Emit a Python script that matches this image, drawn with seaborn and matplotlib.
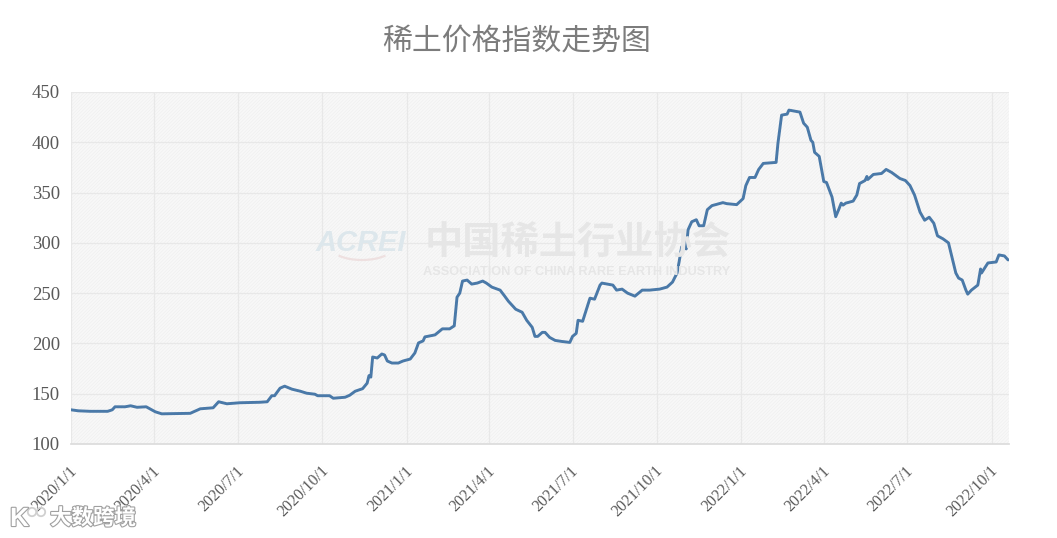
import matplotlib
matplotlib.use("Agg")
import matplotlib.pyplot as plt
import matplotlib.patheffects as pe
from matplotlib.patches import Rectangle, Arc, Circle
from matplotlib.transforms import IdentityTransform, ScaledTranslation
import pandas as pd
import seaborn as sns

title = "稀土价格指数走势图"
tick_labels = ["2020/1/1", "2020/4/1", "2020/7/1", "2020/10/1", "2021/1/1", "2021/4/1",
               "2021/7/1", "2021/10/1", "2022/1/1", "2022/4/1", "2022/7/1", "2022/10/1"]
y_ticks = [100, 150, 200, 250, 300, 350, 400, 450]

day_offsets = [0, 8, 21, 40, 45, 48, 59, 65, 72, 82, 86, 92, 99, 130, 141, 155, 161, 170, 184, 206,
               214, 219, 222, 228, 233, 241, 250, 257, 266, 269, 282, 286, 299, 304, 310, 318, 323, 325,
               327, 329, 334, 339, 342, 345, 350, 357, 362, 370, 375, 379, 384, 386, 397, 405, 413, 418,
               421, 424, 427, 432, 437, 443, 449, 453, 459, 468, 473, 477, 482, 485, 492, 497, 503, 506,
               509, 514, 517, 522, 528, 535, 544, 547, 551, 553, 558, 566, 571, 577, 579, 591, 595, 601,
               607, 615, 623, 631, 642, 650, 656, 661, 663, 666, 671, 673, 677, 682, 685, 690, 694, 699,
               711, 715, 726, 733, 736, 740, 746, 750, 755, 769, 771, 775, 781, 783, 795, 799, 803, 807,
               809, 811, 816, 821, 824, 830, 834, 837, 840, 842, 845, 853, 857, 860, 866, 868, 869, 875,
               884, 889, 895, 904, 910, 915, 920, 926, 931, 936, 941, 945, 951, 957, 965, 968, 972, 976,
               978, 982, 989, 992, 993, 1000, 1009, 1012, 1018, 1022]
index_values = [134, 133, 132.5, 132.5, 134, 137, 137, 138, 136.5, 137, 135, 132, 130, 130.5, 135, 136, 142, 140, 141, 141.5,
                142, 148, 148, 155.5, 157.5, 154.5, 152.5, 150.5, 149.5, 148, 148, 145.5, 146.5, 148.5, 152.5, 155, 160.5, 168,
                166.5, 186.5, 185.5, 189.5, 188.5, 182.5, 180.5, 180.5, 182.5, 184.5, 190.5, 200.5, 202.5, 206.5, 208.5, 214.5, 214.5, 217.5,
                246, 250, 262, 263, 259, 260, 262, 260, 256, 253, 247, 242, 237, 234, 231, 223, 216, 207,
                207, 211, 211, 206, 203, 202, 201, 207, 210, 223, 222, 245, 244, 258, 260, 258, 253, 254,
                250, 247, 253, 253, 254, 256, 261, 270, 280, 296, 294, 313, 321, 323, 317, 317, 333, 337,
                340, 339, 338, 344, 357, 365, 365, 373, 379, 380, 399, 427, 428, 432, 430, 419, 415, 402,
                400, 390, 386, 361, 360, 345.5, 326, 332.5, 339.5, 337.5, 339.5, 341.5, 347.5, 359, 362, 366, 363, 368,
                369, 373, 370, 364, 362, 357, 347.5, 330.5, 322.5, 325.5, 319.5, 307, 304, 300, 270, 265, 263, 253,
                249, 253, 258, 274, 270, 280, 281, 288, 287, 283]

sns.set_theme(style="white")
plt.rcParams["font.family"] = ["Liberation Serif", "Noto Sans CJK SC", "DejaVu Sans"]
plt.rcParams["hatch.linewidth"] = 0.4

W, H = 1057, 538
start = pd.Timestamp("2020-01-01")
df = pd.DataFrame({"date": start + pd.to_timedelta(day_offsets, unit="D"), "value": index_values})
tick_dates = [pd.Timestamp(s.replace("/", "-")) for s in tick_labels]

fig = plt.figure(figsize=(W / 100, H / 100), dpi=100, facecolor="white")
ax = fig.add_axes([71 / W, 1 - 444 / H, (1009 - 71) / W, (444 - 92) / H])
ax.set_facecolor("#f8f8f8")
ax.add_patch(Rectangle((0, 0), 1, 1, transform=ax.transAxes, facecolor="none",
                       edgecolor="#eeeeee", hatch="//////////", lw=0, zorder=0))

sns.lineplot(data=df, x="date", y="value", ax=ax, color="#4a79a8", linewidth=2.1,
             zorder=5, estimator=None, sort=False)

ax.set_xlim(start, start + pd.Timedelta(days=1023))
ax.set_ylim(100, 450)
ax.set_xticks(tick_dates)
ax.set_xticklabels(tick_labels, rotation=45, ha="right", va="top", rotation_mode="anchor")
ax.set_yticks(y_ticks)
ax.set_xlabel("")
ax.set_ylabel("")
ax.tick_params(axis="y", length=0, labelsize=13.5, labelcolor="#595959", pad=8)
ax.tick_params(axis="x", length=0, labelsize=11.5, labelcolor="#595959", pad=13.5)
shift = ScaledTranslation(-2 / 100, 0, fig.dpi_scale_trans)
for lab in ax.get_xticklabels():
    lab.set_transform(lab.get_transform() + shift)
ax.grid(True, color="#e8e8e8", linewidth=0.9, zorder=1)
ax.set_axisbelow(True)
for name, sp in ax.spines.items():
    sp.set_visible(name == "bottom")
    sp.set_color("#dcdcdc")

fig.text(517 / W, 1 - 41 / H, title, ha="center", va="center", fontsize=21.5, color="#7c7c7c",
         family=["Noto Sans CJK SC", "DejaVu Sans"], fontweight="light")

# faint association watermark
fig.text(316 / W, 1 - 243 / H, "ACREI", ha="left", va="center", fontsize=21, color="#dde7ec",
         family="Liberation Sans", style="italic", fontweight="bold", zorder=2)
fig.text(578 / W, 1 - 243 / H, "中国稀土行业协会", ha="center", va="center", fontsize=27.5, color="#e6e6e6",
         family=["Noto Sans CJK TC", "DejaVu Sans"], fontweight="bold", zorder=2)
fig.text(577 / W, 1 - 272 / H, "ASSOCIATION OF CHINA RARE EARTH INDUSTRY", ha="center", va="center",
         fontsize=9.2, color="#e6e6e6", family="Liberation Sans", fontweight="bold", zorder=2)
fig.add_artist(Arc((362, H - 247), 62, 26, theta1=200, theta2=340, transform=IdentityTransform(),
                   color="#eee0e0", lw=1.6))

# bottom-left site mark
stroke = [pe.withStroke(linewidth=1.6, foreground="#a0a0a0")]
fig.text(93 / W, 1 - 518 / H, "大数跨境", ha="center", va="center", fontsize=15.5, color="white",
         family=["Noto Sans CJK SC", "DejaVu Sans"], fontweight="bold", path_effects=stroke, zorder=10)
fig.text(10 / W, 1 - 519 / H, "K", ha="left", va="center", fontsize=19, color="white",
         family="Liberation Sans", fontweight="bold", path_effects=stroke, zorder=10)
for cx in (32, 41):
    fig.add_artist(Circle((cx, H - 512), 4.2, transform=IdentityTransform(), facecolor="none",
                          edgecolor="#d0d0d0", lw=1.3, zorder=10))

fig.savefig("out.png", dpi=100)
